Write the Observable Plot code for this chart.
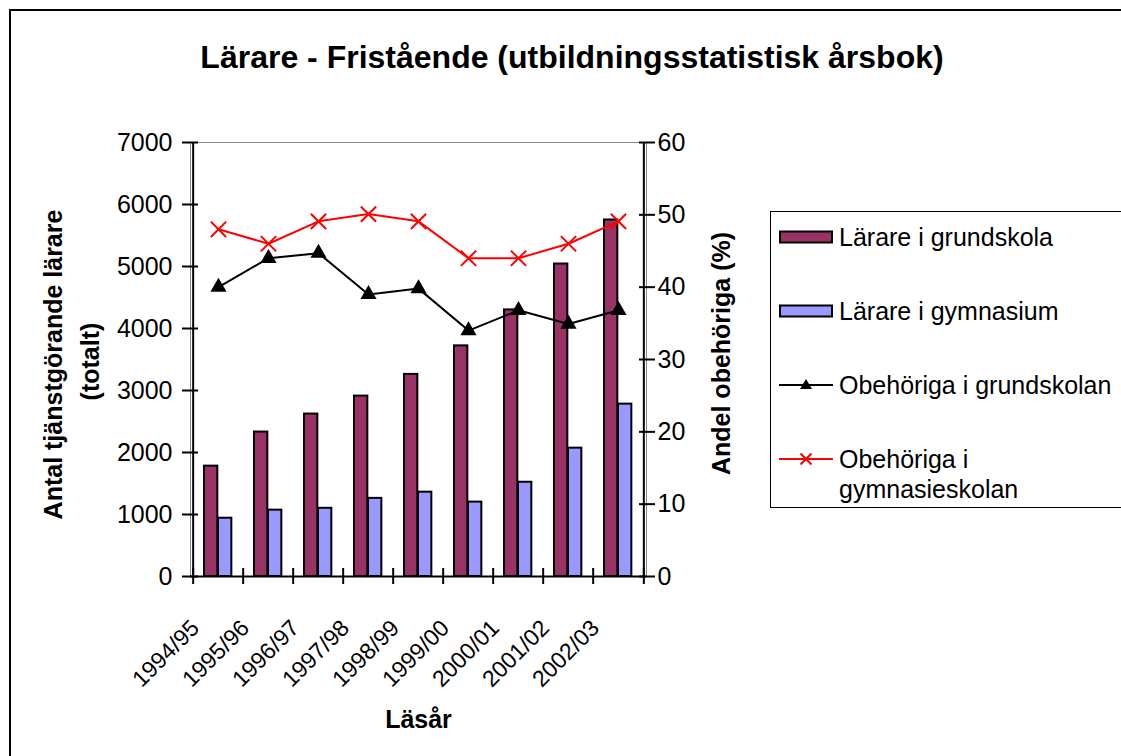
<!DOCTYPE html>
<html>
<head>
<meta charset="utf-8">
<script src="https://cdn.jsdelivr.net/npm/d3@7"></script>
<script src="https://cdn.jsdelivr.net/npm/@observablehq/plot@0.6"></script>
<style>
  html, body { margin: 0; padding: 0; background: #fff; overflow: hidden; }
  body { font-family: "Liberation Sans", Arial, sans-serif; color: #000; }
  #wrap { position: relative; width: 1121px; height: 756px; overflow: hidden; }
  #border { position: absolute; left: 9px; top: 9px; width: 1200px; height: 800px; border: 2px solid #000; }
  #title { position: absolute; left: 0; width: 1144px; top: 39px; text-align: center; font-weight: bold; font-size: 32px; white-space: nowrap; }
  #chart { position: absolute; left: 0; top: 0; }
  #legend { position: absolute; left: 770px; top: 211px; width: 400px; height: 295px; border: 1.5px solid #000; background: #fff; }
  .item { position: absolute; left: 0; font-size: 25px; line-height: 30px; }
  .item svg { position: absolute; left: 8px; }
  .item span { position: absolute; left: 68px; white-space: nowrap; }
</style>
</head>
<body>
<div id="wrap">
  <div id="border"></div>
  <div id="chart"></div>
  <div id="title"></div>
  <div id="legend"></div>
</div>
<script>
// ---- data ----
const years = ["1994/95", "1995/96", "1996/97", "1997/98", "1998/99", "1999/00", "2000/01", "2001/02", "2002/03"];
const lararGrundskola = [1780, 2330, 2620, 2910, 3260, 3720, 4300, 5040, 5750];
const lararGymnasium = [940, 1070, 1100, 1260, 1360, 1200, 1520, 2070, 2780];
const obehorigaGrundskolan = [40, 44, 44.7, 39, 39.8, 34, 36.8, 34.9, 36.8];
const obehorigaGymnasieskolan = [48, 46, 49.1, 50.1, 49.1, 44, 44, 46, 49.1];
const leftTicks = [0, 1000, 2000, 3000, 4000, 5000, 6000, 7000];
const rightTicks = [0, 10, 20, 30, 40, 50, 60];
const seriesNames = ["Lärare i grundskola", "Lärare i gymnasium", "Obehöriga i grundskolan", "Obehöriga i gymnasieskolan"];
const titleText = "Lärare - Fristående (utbildningsstatistisk årsbok)";
const leftTitle = ["Antal tjänstgörande lärare", "(totalt)"];
const rightTitle = "Andel obehöriga (%)";
const xTitle = "Läsår";

// ---- layout ----
const W = 1121, H = 756;
const mL = 190, mR = 475, mT = 142, mB = 180;
const yMax = 7000, pMax = 60;
const k = yMax / pMax;               // percent -> left-axis units
const bw = (W - mL - mR) / years.length;
const tk = 8 * yMax / (H - mT - mB);  // 8px tick half-length in data units
const font = "'Liberation Sans', Arial, sans-serif";
const colGrund = "#993366", colGym = "#9999FF", colRed = "#FF0000";

const rows = years.map((y, i) => ({
  year: y,
  grund: lararGrundskola[i],
  gym: lararGymnasium[i],
  pGrund: obehorigaGrundskolan[i] * k,
  pGym: obehorigaGymnasieskolan[i] * k
}));

const chart = Plot.plot({
  width: W, height: H,
  marginLeft: mL, marginRight: mR, marginTop: mT, marginBottom: mB,
  style: { fontFamily: font, background: "transparent", overflow: "visible", color: "#000" },
  x: { type: "band", domain: years, padding: 0, axis: null },
  y: { domain: [0, yMax], axis: null },
  marks: [
    Plot.frame({ stroke: "#888", strokeWidth: 1 }),
    Plot.barY(rows, { x: "year", y: "grund", fill: colGrund, stroke: "#000", strokeWidth: 2, insetLeft: 11, insetRight: bw - 25 }),
    Plot.barY(rows, { x: "year", y: "gym", fill: colGym, stroke: "#000", strokeWidth: 2, insetLeft: 25, insetRight: bw - 39 }),
    // axes lines
    Plot.ruleY([0], { stroke: "#000", strokeWidth: 2 }),
    Plot.ruleX([years[0]], { dx: -bw / 2, stroke: "#000", strokeWidth: 2 }),
    Plot.ruleX([years[years.length - 1]], { dx: bw / 2, stroke: "#000", strokeWidth: 2 }),
    Plot.ruleX(years, { x: d => d, dx: -bw / 2, y1: -tk, y2: tk, stroke: "#000", strokeWidth: 2 }),
    Plot.ruleX([years[years.length - 1]], { x: d => d, dx: bw / 2, y1: -tk, y2: tk, stroke: "#000", strokeWidth: 2 }),
    Plot.axisY(leftTicks, { anchor: "left", tickSize: 16, dx: 8, tickPadding: 10, fontSize: 25, strokeWidth: 2, tickFormat: d => String(d) }),
    Plot.axisY(rightTicks.map(d => d * k), { anchor: "right", tickSize: 16, dx: -8, tickPadding: 3, fontSize: 25, strokeWidth: 2, tickFormat: d => String(Math.round(d / k)) }),
    // lines
    Plot.line(rows, { x: "year", y: "pGrund", stroke: "#000", strokeWidth: 2 }),
    Plot.dot(rows, { x: "year", y: "pGrund", symbol: "triangle", fill: "#000", stroke: "none", r: 6 }),
    Plot.line(rows, { x: "year", y: "pGym", stroke: colRed, strokeWidth: 2 }),
    Plot.dot(rows, { x: "year", y: "pGym", symbol: "times", stroke: colRed, strokeWidth: 2, r: 7 }),
    // x tick labels
    Plot.text(years, { x: d => d, frameAnchor: "bottom", rotate: -45, textAnchor: "end", lineAnchor: "bottom", dx: -18, dy: 53, fontSize: 23, fill: "#000" }),
    // axis titles
    Plot.text([leftTitle[0]], { frameAnchor: "left", rotate: -90, textAnchor: "middle", lineAnchor: "bottom", dx: -129, dy: 5, fontSize: 25, fontWeight: "bold", fill: "#000" }),
    Plot.text([leftTitle[1]], { frameAnchor: "left", rotate: -90, textAnchor: "middle", lineAnchor: "bottom", dx: -92, dy: 2, fontSize: 25, fontWeight: "bold", fill: "#000" }),
    Plot.text([rightTitle], { frameAnchor: "right", rotate: -90, textAnchor: "middle", lineAnchor: "bottom", dx: 83, dy: -6, fontSize: 25, fontWeight: "bold", fill: "#000" }),
    Plot.text([xTitle], { frameAnchor: "bottom", textAnchor: "middle", lineAnchor: "bottom", dy: 151, fontSize: 25, fontWeight: "bold", fill: "#000" })
  ]
});
document.getElementById("chart").appendChild(chart);
document.getElementById("title").textContent = titleText;

// ---- legend ----
const legend = document.getElementById("legend");
const items = [
  { name: seriesNames[0], kind: "bar", color: colGrund, top: 10 },
  { name: seriesNames[1], kind: "bar", color: colGym, top: 84 },
  { name: seriesNames[2], kind: "tri", color: "#000", top: 158 },
  { name: seriesNames[3], kind: "x", color: colRed, top: 232 }
];
items.forEach(it => {
  const div = document.createElement("div");
  div.className = "item";
  div.style.top = it.top + "px";
  let sw = "";
  if (it.kind === "bar") {
    sw = `<svg width="56" height="30"><rect x="1" y="9.5" width="52" height="11" fill="${it.color}" stroke="#000" stroke-width="2"/></svg>`;
  } else if (it.kind === "tri") {
    sw = `<svg width="56" height="30"><line x1="0" y1="15" x2="54" y2="15" stroke="#000" stroke-width="2"/><path d="M27,9 L33,19 L21,19 Z" fill="#000"/></svg>`;
  } else {
    sw = `<svg width="56" height="30"><line x1="0" y1="15" x2="54" y2="15" stroke="${it.color}" stroke-width="2"/><path d="M21.5,9.5 L32.5,20.5 M32.5,9.5 L21.5,20.5" stroke="${it.color}" stroke-width="2"/></svg>`;
  }
  const label = it.kind === "x" ? "Obehöriga i<br>gymnasieskolan" : it.name;
  div.innerHTML = sw + `<span>${label}</span>`;
  legend.appendChild(div);
});
</script>
</body>
</html>
